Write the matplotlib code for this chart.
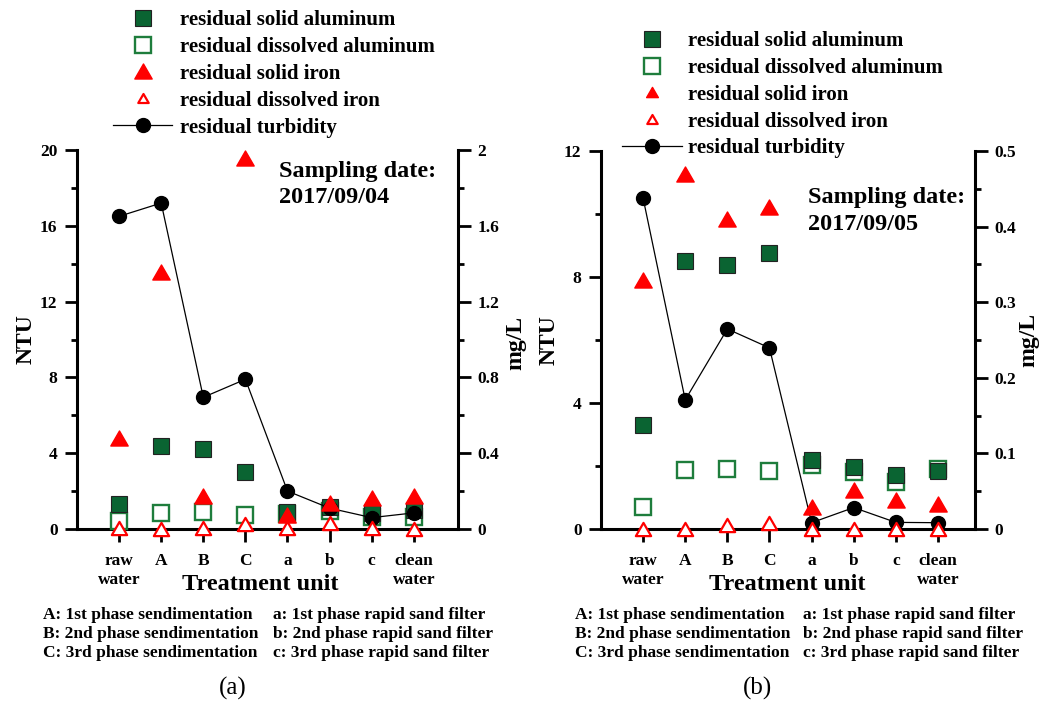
import numpy as np
import matplotlib
matplotlib.use("Agg")
import matplotlib.pyplot as plt
from matplotlib.lines import Line2D
from matplotlib.path import Path
from matplotlib.ticker import MultipleLocator, FuncFormatter

plt.rcParams["font.family"] = ["Liberation Serif", "DejaVu Serif"]
plt.rcParams["font.weight"] = "bold"
plt.rcParams["axes.labelweight"] = "bold"

units = ["raw\nwater", "A", "B", "C", "a", "b", "c", "clean\nwater"]

# Sampling date 2017/09/04 (turbidity in NTU, metals in mg/L)
turb_0904 = [16.5, 17.2, 6.95, 7.9, 2.0, 1.1, 0.6, 0.85]
solid_al_0904 = [0.13, 0.44, 0.42, 0.30, 0.088, 0.118, 0.083, 0.10]
diss_al_0904 = [0.044, 0.083, 0.091, 0.074, 0.08, 0.095, 0.065, 0.065]
solid_fe_0904 = [0.48, 1.355, 0.176, 1.96, 0.074, 0.136, 0.162, 0.174]
diss_fe_0904 = [0.007, 0.0, 0.005, 0.026, 0.007, 0.033, 0.005, 0.0]

# Sampling date 2017/09/05
turb_0905 = [10.5, 4.1, 6.35, 5.75, 0.2, 0.68, 0.21, 0.2]
solid_al_0905 = [0.138, 0.354, 0.349, 0.365, 0.091, 0.0825, 0.0714, 0.0767]
diss_al_0905 = [0.0295, 0.078, 0.080, 0.0767, 0.085, 0.076, 0.0626, 0.079]
solid_fe_0905 = [0.330, 0.470, 0.410, 0.426, 0.0295, 0.0516, 0.039, 0.033]
diss_fe_0905 = [0.0, 0.0, 0.005, 0.0075, 0.0, 0.0, 0.0, 0.0]

series_labels = ["residual solid aluminum", "residual dissolved aluminum",
                 "residual solid iron", "residual dissolved iron",
                 "residual turbidity"]

footnotes_left = ["A: 1st phase sendimentation", "B: 2nd phase sendimentation",
                  "C: 3rd phase sendimentation"]
footnotes_right = ["a: 1st phase rapid sand filter", "b: 2nd phase rapid sand filter",
                   "c: 3rd phase rapid sand filter"]

DARK_GREEN = "#0a6432"
GREEN_EDGE = "#1e7d3c"
RED = "#ff0000"
# equilateral triangle marker, centred on its bounding box
TRI = Path([(-1, -0.866), (1, -0.866), (0, 0.866), (-1, -0.866)], closed=True)

W, H = 1043, 711
fig = plt.figure(figsize=(W / 100, H / 100), dpi=100)


def fx(px):
    return px / W


def fy(py):
    return 1 - py / H


fmt = FuncFormatter(lambda v, p: "%g" % round(v, 6))


def panel(rect, turb, sal, dal, sfe, dfe, ntu_max, ntu_major, mg_max, mg_major,
          xmax, date, date_pos, ntu_lab_x, mg_lab, xlab_x):
    ax = fig.add_axes(rect)
    ax2 = ax.twinx()
    x = np.arange(1, len(units) + 1)

    ax2.plot(x, dal, ls="none", marker="s", ms=11, mfc="white", mec=GREEN_EDGE,
             mew=1.7, clip_on=False, zorder=2)
    ax2.plot(x, sal, ls="none", marker="s", ms=12, mfc=DARK_GREEN, mec="#222222",
             mew=0.8, clip_on=False, zorder=3)
    ax2.plot(x, turb, transform=ax.transData, color="black", lw=0.9, marker="o",
             ms=10, clip_on=False, zorder=4)
    ax2.plot(x, sfe, ls="none", marker=TRI, ms=12.5, color=RED, clip_on=False, zorder=5)
    ax2.plot(x, dfe, ls="none", marker=TRI, ms=11, mfc="white", mec=RED, mew=1.6,
             clip_on=False, zorder=6)

    ax.set_xlim(0, xmax)
    ax.set_ylim(0, ntu_max)
    ax2.set_ylim(0, mg_max)

    ax.set_xticks(x)
    ax.set_xticklabels(units, fontsize=12.5, linespacing=1.25)
    ax.yaxis.set_major_locator(MultipleLocator(ntu_major))
    ax.yaxis.set_minor_locator(MultipleLocator(ntu_major / 2))
    ax2.yaxis.set_major_locator(MultipleLocator(mg_major))
    ax2.yaxis.set_minor_locator(MultipleLocator(mg_major / 2))
    ax.yaxis.set_major_formatter(fmt)
    ax2.yaxis.set_major_formatter(fmt)

    for s in ("top", "right"):
        ax.spines[s].set_visible(False)
    for s in ("top", "left", "bottom"):
        ax2.spines[s].set_visible(False)
    for sp in (ax.spines["left"], ax.spines["bottom"], ax2.spines["right"]):
        sp.set_linewidth(2.2)

    ax.tick_params(axis="x", which="major", direction="out", length=9, width=2,
                   pad=8, labelsize=12.5, top=False)
    ax.tick_params(axis="y", which="major", direction="out", length=9, width=2,
                   pad=5, labelsize=12.5)
    ax.tick_params(axis="y", which="minor", direction="out", length=4.5, width=2)
    ax2.tick_params(axis="y", which="major", direction="out", length=9, width=2,
                    pad=5, labelsize=12.5)
    ax2.tick_params(axis="y", which="minor", direction="out", length=4.5, width=2)

    ax.set_ylabel("NTU", fontsize=17)
    ax.yaxis.set_label_coords(ntu_lab_x, 0.5)
    ax2.set_ylabel("mg/L", fontsize=17)
    ax2.yaxis.set_label_coords(mg_lab[0], mg_lab[1])
    ax.set_xlabel("Treatment unit", fontsize=17.5)
    ax.xaxis.set_label_coords(xlab_x, -0.12)

    ax.text(date_pos[0], date_pos[1], "Sampling date:\n" + date, transform=ax.transAxes,
            ha="left", va="top", fontsize=17.5, fontweight="bold", linespacing=1.35)
    return ax, ax2


def legend_handles(tri_solid_ms):
    return [
        Line2D([], [], ls="none", marker="s", ms=12, mfc=DARK_GREEN, mec="#222222", mew=0.8),
        Line2D([], [], ls="none", marker="s", ms=11, mfc="white", mec=GREEN_EDGE, mew=1.7),
        Line2D([], [], ls="none", marker=TRI, ms=tri_solid_ms, color=RED),
        Line2D([], [], ls="none", marker=TRI, ms=7.5, mfc="white", mec=RED, mew=1.6),
        Line2D([], [], color="black", lw=0.9, marker="o", ms=10),
    ]


# panel (a)
panel([fx(77), fy(529), fx(458) - fx(77), fy(150) - fy(529)],
      turb_0904, solid_al_0904, diss_al_0904, solid_fe_0904, diss_fe_0904,
      20, 4, 2, 0.4, 9.05, "2017/09/04", (0.53, 0.972), -0.105, (1.123, 0.49), 0.48)

# panel (b)
panel([fx(601), fy(529), fx(975) - fx(601), fy(151) - fy(529)],
      turb_0905, solid_al_0905, diss_al_0905, solid_fe_0905, diss_fe_0905,
      12, 4, 0.5, 0.1, 8.88, "2017/09/05", (0.553, 0.905), -0.11, (1.115, 0.5), 0.497)

legend_font = dict(family="Liberation Serif", weight="bold", size=15)
fig.legend(legend_handles(12.5), series_labels, loc="upper left",
           bbox_to_anchor=(fx(113), fy(10)), frameon=False, borderpad=0,
           borderaxespad=0, handlelength=2.84, handletextpad=0.38,
           labelspacing=0.33, prop=legend_font)
fig.legend(legend_handles(8.5), series_labels, loc="upper left",
           bbox_to_anchor=(fx(622), fy(31)), frameon=False, borderpad=0,
           borderaxespad=0, handlelength=2.9, handletextpad=0.29,
           labelspacing=0.33, prop=legend_font)

# unit explanations under each panel
for i, y in enumerate([615, 634, 653]):
    for x0, x1 in ((43, 273), (575, 803)):
        fig.text(fx(x0), fy(y), footnotes_left[i], ha="left", va="center",
                 fontsize=12.5, fontweight="bold")
        fig.text(fx(x1), fy(y), footnotes_right[i], ha="left", va="center",
                 fontsize=12.5, fontweight="bold")

fig.text(fx(233), fy(688), "(a)", ha="center", va="center", fontsize=18,
         fontweight="normal")
fig.text(fx(758), fy(688), "(b)", ha="center", va="center", fontsize=18,
         fontweight="normal")

fig.savefig("out.png", dpi=100, facecolor="white")
